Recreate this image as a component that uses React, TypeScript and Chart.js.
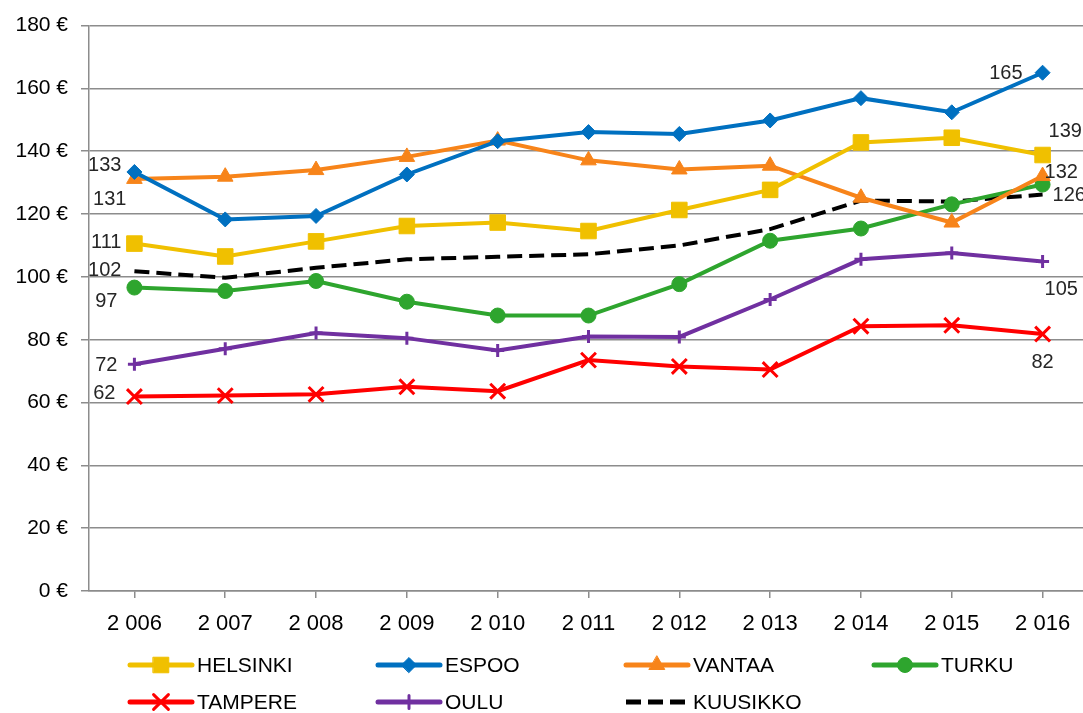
import React, { useEffect, useRef } from "react";
import { Chart, registerables } from "chart.js";
import { drawPoint } from "chart.js/helpers";

Chart.register(...registerables);

const years = ["2 006", "2 007", "2 008", "2 009", "2 010", "2 011", "2 012", "2 013", "2 014", "2 015", "2 016"];

const helsinki = [110.6, 106.5, 111.3, 116.2, 117.3, 114.6, 121.3, 127.7, 142.8, 144.3, 138.8];
const espoo = [133.4, 118.3, 119.4, 132.6, 143.2, 146.1, 145.5, 149.8, 156.9, 152.4, 165.0];
const vantaa = [131.2, 131.9, 134.0, 138.2, 143.4, 137.1, 134.2, 135.4, 125.2, 117.3, 132.1];
const turku = [96.6, 95.5, 98.7, 92.1, 87.7, 87.7, 97.7, 111.5, 115.4, 123.1, 129.4];
const tampere = [61.9, 62.2, 62.6, 65.0, 63.6, 73.5, 71.5, 70.5, 84.3, 84.6, 81.8];
const oulu = [72.2, 77.1, 82.1, 80.5, 76.6, 81.0, 80.9, 92.8, 105.6, 107.6, 104.9];
const kuusikko = [101.8, 99.7, 102.9, 105.6, 106.4, 107.2, 110.0, 115.2, 124.3, 124.0, 126.2];

const seriesNames = ["HELSINKI", "ESPOO", "VANTAA", "TURKU", "TAMPERE", "OULU", "KUUSIKKO"];

const yTicks = [0, 20, 40, 60, 80, 100, 120, 140, 160, 180];

// label spec: dataset index, point index, text, dx, dy, align
const dataLabels: [number, number, string, number, number, CanvasTextAlign][] = [
  [1, 0, "133", -13, -6, "right"],
  [2, 0, "131", -8, 21, "right"],
  [0, 0, "111", -13, -1, "right"],
  [6, 0, "102", -13, -1, "right"],
  [3, 0, "97", -17, 14, "right"],
  [5, 0, "72", -17, 1, "right"],
  [4, 0, "62", -19, -3, "right"],
  [1, 10, "165", -20, 1, "right"],
  [0, 10, "139", 6, -24, "left"],
  [2, 10, "132", 2, -4, "left"],
  [6, 10, "126", 10, 1, "left"],
  [5, 10, "105", 2, 28, "left"],
  [4, 10, "82", 0, 28, "center"],
];

const GRID = "#8c8c8c";

export default function App() {
  const ref = useRef<HTMLCanvasElement>(null);

  useEffect(() => {
    if (!ref.current) return;
    const styles = [
      { color: "#F0C000", pointStyle: "rect", radius: 11, bw: 1 },
      { color: "#0070C0", pointStyle: "rectRot", radius: 7.5, bw: 1 },
      { color: "#F7841A", pointStyle: "triangle", radius: 9, bw: 1 },
      { color: "#2EA52E", pointStyle: "circle", radius: 7.5, bw: 1 },
      { color: "#FF0000", pointStyle: "crossRot", radius: 10.5, bw: 3 },
      { color: "#7030A0", pointStyle: "cross", radius: 6.5, bw: 3 },
      { color: "#000000", pointStyle: false, radius: 0, bw: 1 },
    ];
    const values = [helsinki, espoo, vantaa, turku, tampere, oulu, kuusikko];
    const datasets = values.map((d, i) => ({
      label: seriesNames[i],
      data: d,
      borderColor: styles[i].color,
      backgroundColor: styles[i].color,
      pointBackgroundColor: styles[i].color,
      pointBorderColor: styles[i].color,
      pointStyle: styles[i].pointStyle as any,
      pointRadius: styles[i].radius,
      pointBorderWidth: styles[i].bw,
      borderWidth: 4,
      borderDash: i === 6 ? [15, 7] : [],
      tension: 0,
      fill: false,
    }));

    const labelPlugin = {
      id: "labels",
      afterDatasetsDraw(chart: any) {
        const ctx = chart.ctx;
        ctx.save();
        ctx.font = "20px 'Liberation Sans', sans-serif";
        ctx.fillStyle = "#262626";
        ctx.textBaseline = "middle";
        dataLabels.forEach(([ds, idx, text, dx, dy, align]) => {
          const el = chart.getDatasetMeta(ds).data[idx];
          if (!el) return;
          ctx.textAlign = align;
          ctx.fillText(text, el.x + dx, el.y + dy);
        });
        ctx.restore();
      },
    };

    const legendPlugin = {
      id: "customLegend",
      afterDraw(chart: any) {
        const ctx = chart.ctx;
        ctx.save();
        const cols = [130, 378, 626, 874];
        const rows = [665, 702];
        seriesNames.forEach((name, i) => {
          const x = cols[i % 4];
          const y = rows[Math.floor(i / 4)];
          const st = styles[i];
          ctx.strokeStyle = st.color;
          ctx.fillStyle = st.color;
          ctx.lineWidth = 5;
          ctx.lineCap = i === 6 ? "butt" : "round";
          ctx.setLineDash(i === 6 ? [15, 7] : []);
          ctx.beginPath();
          ctx.moveTo(x, y);
          ctx.lineTo(x + 62, y);
          ctx.stroke();
          ctx.setLineDash([]);
          if (st.pointStyle) {
            ctx.lineWidth = st.bw;
            drawPoint(ctx, { pointStyle: st.pointStyle as any, radius: st.radius, rotation: 0, borderWidth: st.bw }, x + 31, y);
          }
          ctx.fillStyle = "#000";
          ctx.font = "21px 'Liberation Sans', sans-serif";
          ctx.textAlign = "left";
          ctx.textBaseline = "middle";
          ctx.fillText(name, x + 67, y + 1);
        });
        ctx.restore();
      },
    };

    const chart = new Chart(ref.current, {
      type: "line",
      data: { labels: years, datasets },
      options: {
        animation: false,
        responsive: false,
        devicePixelRatio: 1,
        layout: { padding: { left: 0, top: 19, right: 32, bottom: 0 } },
        plugins: { legend: { display: false }, tooltip: { enabled: false } },
        scales: {
          x: {
            offset: true,
            grid: { display: true, drawOnChartArea: false, drawTicks: true, tickLength: 7, color: GRID, lineWidth: 1.5, offset: false },
            border: { display: true, color: GRID, width: 1.5 },
            ticks: { color: "#000", font: { family: "'Liberation Sans', sans-serif", size: 22 }, padding: 13, maxRotation: 0, autoSkip: false },
            afterFit: (s: any) => { s.height = 122; },
          },
          y: {
            min: 0,
            max: 180,
            afterBuildTicks: (s: any) => { s.ticks = yTicks.map((v) => ({ value: v })); },
            grid: { color: GRID, lineWidth: 1.5, drawTicks: true, tickLength: 8 },
            border: { display: true, color: GRID, width: 1.5 },
            ticks: {
              color: "#000",
              font: { family: "'Liberation Sans', sans-serif", size: 21 },
              padding: 13,
              callback: (v: any) => `${v} €`,
            },
            afterFit: (s: any) => { s.width = 89; },
          },
        },
      },
      plugins: [labelPlugin, legendPlugin],
    });
    return () => chart.destroy();
  }, []);

  return (
    <div style={{ position: "fixed", left: 0, top: 0, width: 1083, height: 713, overflow: "hidden", background: "#fff" }}>
      <canvas ref={ref} width={1120} height={713} style={{ display: "block", width: 1120, height: 713 }} />
    </div>
  );
}
